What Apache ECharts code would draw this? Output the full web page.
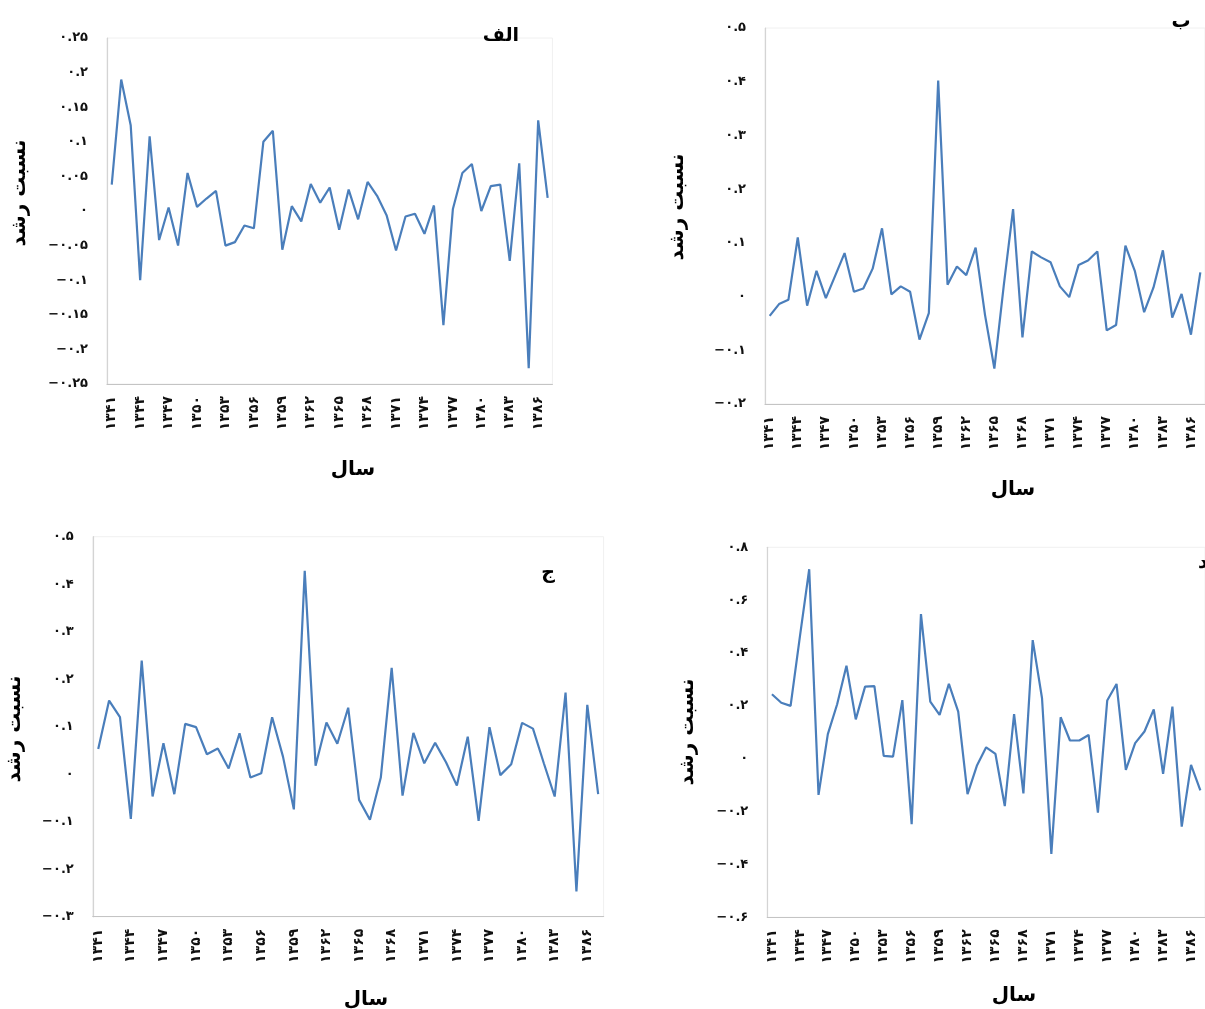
<!DOCTYPE html>
<html>
<head>
<meta charset="utf-8">
<script src="https://cdn.jsdelivr.net/npm/echarts@6/dist/echarts.min.js"></script>
<style>
html,body{margin:0;padding:0;background:#fff;}
#c{width:1205px;height:1009px;}
</style>
</head>
<body>
<div id="c"></div>
<script>
// Categories (years, Persian digits)
const years = ['۱۳۴۱','۱۳۴۲','۱۳۴۳','۱۳۴۴','۱۳۴۵','۱۳۴۶','۱۳۴۷','۱۳۴۸','۱۳۴۹','۱۳۵۰',
  '۱۳۵۱','۱۳۵۲','۱۳۵۳','۱۳۵۴','۱۳۵۵','۱۳۵۶','۱۳۵۷','۱۳۵۸','۱۳۵۹','۱۳۶۰',
  '۱۳۶۱','۱۳۶۲','۱۳۶۳','۱۳۶۴','۱۳۶۵','۱۳۶۶','۱۳۶۷','۱۳۶۸','۱۳۶۹','۱۳۷۰',
  '۱۳۷۱','۱۳۷۲','۱۳۷۳','۱۳۷۴','۱۳۷۵','۱۳۷۶','۱۳۷۷','۱۳۷۸','۱۳۷۹','۱۳۸۰',
  '۱۳۸۱','۱۳۸۲','۱۳۸۳','۱۳۸۴','۱۳۸۵','۱۳۸۶','۱۳۸۷'];

// Series values (growth ratio) per panel
const alefValues = [0.038, 0.19, 0.124, -0.10, 0.108, -0.042, 0.005, -0.05, 0.055, 0.006,
  0.018, 0.029, -0.05, -0.045, -0.021, -0.025, 0.10, 0.116, -0.056, 0.007,
  -0.015, 0.039, 0.012, 0.034, -0.027, 0.031, -0.012, 0.042, 0.022, -0.006,
  -0.057, -0.008, -0.004, -0.033, 0.008, -0.165, 0.003, 0.055, 0.068, 0.0,
  0.036, 0.038, -0.072, 0.069, -0.227, 0.131, 0.019];

const beValues = [-0.036, -0.014, -0.006, 0.110, -0.017, 0.048, -0.003, 0.039, 0.081, 0.009,
  0.015, 0.052, 0.127, 0.004, 0.019, 0.009, -0.080, -0.031, 0.402, 0.022,
  0.056, 0.040, 0.091, -0.034, -0.134, 0.020, 0.163, -0.076, 0.084, 0.073,
  0.064, 0.019, -0.001, 0.059, 0.067, 0.084, -0.063, -0.053, 0.095, 0.048,
  -0.029, 0.017, 0.086, -0.039, 0.005, -0.071, 0.045];

const jimValues = [0.053, 0.155, 0.120, -0.094, 0.239, -0.047, 0.065, -0.042, 0.106, 0.099,
  0.042, 0.054, 0.012, 0.086, -0.007, 0.002, 0.120, 0.037, -0.074, 0.428,
  0.018, 0.109, 0.064, 0.140, -0.054, -0.096, -0.007, 0.224, -0.045, 0.087,
  0.023, 0.066, 0.025, -0.024, 0.079, -0.098, 0.099, -0.002, 0.021, 0.108,
  0.096, 0.023, -0.047, 0.172, -0.247, 0.146, -0.042];

const dalValues = [0.244, 0.212, 0.200, 0.462, 0.717, -0.137, 0.093, 0.206, 0.352, 0.149,
  0.273, 0.275, 0.011, 0.008, 0.222, -0.248, 0.547, 0.216, 0.166, 0.283,
  0.178, -0.134, -0.027, 0.043, 0.018, -0.179, 0.169, -0.131, 0.449, 0.229,
  -0.360, 0.157, 0.069, 0.069, 0.090, -0.204, 0.220, 0.283, -0.042, 0.059,
  0.103, 0.187, -0.057, 0.197, -0.257, -0.023, -0.12];

// Axis ranges
const alefRange = {min: -0.25, max: 0.25, interval: 0.05};
const beRange   = {min: -0.2,  max: 0.5,  interval: 0.1};
const jimRange  = {min: -0.3,  max: 0.5,  interval: 0.1};
const dalRange  = {min: -0.6,  max: 0.8,  interval: 0.2};

// Texts
const panelLabels = ['الف', 'ب', 'ج', 'د'];
const yTitle = 'نسبت رشد';
const xTitle = 'سال';

const FA = '۰۱۲۳۴۵۶۷۸۹';
function faNum(v) {
  let s = String(Math.round(v * 100) / 100);
  s = s.replace('-', '−');
  return s.replace(/[0-9]/g, d => FA[d]);
}

const FONT = '"DejaVu Sans", sans-serif';
const LINE_COLOR = '#4a7ebb';

const grids = [
  {left: 107,   top: 38,    width: 445.4, height: 346},
  {left: 765,   top: 28,    width: 446.5, height: 376},
  {left: 92.8,  top: 536.7, width: 510.8, height: 380},
  {left: 767.3, top: 547.3, width: 446.5, height: 370}
];
const ranges = [alefRange, beRange, jimRange, dalRange];
const values = [alefValues, beValues, jimValues, dalValues];

const option = {
  animation: false,
  backgroundColor: '#fff',
  grid: grids.map(g => Object.assign({
    show: true, borderColor: '#f0f0f0', borderWidth: 1, backgroundColor: 'transparent',
    containLabel: false
  }, g)),
  xAxis: grids.map((g, i) => ({
    type: 'category',
    gridIndex: i,
    data: years,
    boundaryGap: true,
    axisLine: {show: true, onZero: false, lineStyle: {color: '#c4c4c4', width: 1.2}},
    axisTick: {show: false},
    splitLine: {show: false},
    axisLabel: {
      interval: 2, rotate: 90, margin: 12,
      fontFamily: FONT, fontWeight: 'bold', fontSize: 14, color: '#111'
    }
  })),
  yAxis: grids.map((g, i) => ({
    type: 'value',
    gridIndex: i,
    min: ranges[i].min, max: ranges[i].max, interval: ranges[i].interval,
    axisLine: {show: true, lineStyle: {color: '#d4d4d4', width: 1.2}},
    axisTick: {show: false},
    splitLine: {show: false},
    axisLabel: {
      margin: 19, formatter: faNum, padding: [0, 0, 7, 0],
      fontFamily: FONT, fontWeight: 'bold', fontSize: 13, color: '#111'
    }
  })),
  series: values.map((v, i) => ({
    type: 'line',
    xAxisIndex: i, yAxisIndex: i,
    data: v,
    symbol: 'none',
    smooth: false,
    lineStyle: {color: LINE_COLOR, width: 2.2},
    itemStyle: {color: LINE_COLOR}
  })),
  graphic: []
};

function txt(x, y, text, size, rot) {
  return {
    type: 'text', x: x, y: y, rotation: rot || 0, silent: true,
    style: {
      text: text, fill: '#000', align: 'center', verticalAlign: 'middle',
      font: 'bold ' + size + 'px ' + FONT
    }
  };
}
// panel letters
option.graphic.push(txt(501, 36, panelLabels[0], 19));
option.graphic.push(txt(1181, 22, panelLabels[1], 19));
option.graphic.push(txt(548, 573, panelLabels[2], 19));
option.graphic.push(txt(1203, 563, panelLabels[3], 19));
// y titles
option.graphic.push(txt(20, 193, yTitle, 20, Math.PI / 2));
option.graphic.push(txt(678, 207, yTitle, 20, Math.PI / 2));
option.graphic.push(txt(15, 729, yTitle, 20, Math.PI / 2));
option.graphic.push(txt(688, 732, yTitle, 20, Math.PI / 2));
// x titles
option.graphic.push(txt(353, 470, xTitle, 20));
option.graphic.push(txt(1013, 490, xTitle, 20));
option.graphic.push(txt(366, 1000, xTitle, 20));
option.graphic.push(txt(1014, 996, xTitle, 20));

const chart = echarts.init(document.getElementById('c'), null, {renderer: 'canvas'});
chart.setOption(option);
</script>
</body>
</html>
